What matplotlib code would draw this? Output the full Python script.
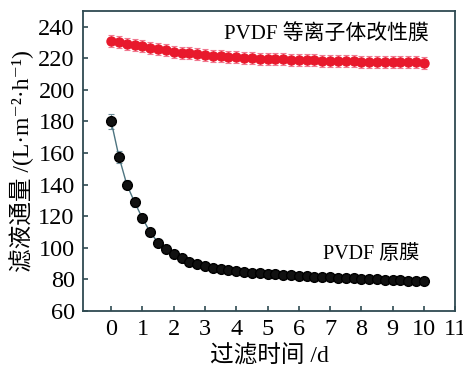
import numpy as np
import matplotlib
matplotlib.use('Agg')
import matplotlib.pyplot as plt

plt.rcParams['font.family'] = ['Liberation Serif', 'Noto Sans CJK SC', 'DejaVu Serif']

# 过滤时间 /d
days = [i * 0.25 for i in range(41)]

# PVDF 等离子体改性膜
modified = [230.8, 230.0, 229.2, 228.3, 227.5, 226.7, 225.8, 225.0, 224.2, 223.6,
            223.0, 222.5, 222.0, 221.6, 221.3, 221.0, 220.7, 220.4, 220.1, 219.8,
            219.6, 219.4, 219.2, 219.0, 218.9, 218.7, 218.6, 218.4, 218.3, 218.2,
            218.1, 218.0, 217.9, 217.8, 217.7, 217.6, 217.5, 217.4, 217.3, 217.3,
            217.2]
modified_err = [3.8] * 41

# PVDF 原膜
raw = [180.0, 157.5, 140.0, 128.8, 118.7, 109.8, 103.3, 99.3, 96.2, 93.4,
       91.3, 89.7, 88.4, 87.4, 86.6, 85.9, 85.3, 84.8, 84.3, 83.9,
       83.5, 83.2, 82.9, 82.6, 82.3, 82.0, 81.8, 81.5, 81.3, 81.1,
       80.9, 80.7, 80.5, 80.3, 80.1, 79.9, 79.7, 79.5, 79.3, 79.1,
       79.0]
raw_err = [4.5, 3.5, 3.0, 2.8, 2.6, 2.2, 2.0, 1.8, 1.6, 1.5] + [1.2] * 31

xticks = list(range(12))
yticks = list(range(60, 241, 20))

fig = plt.figure(figsize=(4.64, 3.73), dpi=100)
ax = fig.add_axes([0.179, 0.166, 0.802, 0.805])

ax.errorbar(days, modified, yerr=modified_err, fmt='o-', color='#e8192c',
            ecolor='#f07890', elinewidth=0.8, capsize=2.2, capthick=0.8,
            markersize=6.5, lw=1, zorder=3)
ax.errorbar(days, raw, yerr=raw_err, fmt='o-', color='#4d7480',
            mfc='#111111', mec='#000000', ecolor='#6f8f9a', elinewidth=0.8,
            capsize=2.2, capthick=0.8, markersize=7, lw=1, zorder=3)

ax.text(10.15, 235, 'PVDF 等离子体改性膜', fontsize=15, ha='right', va='center')
ax.text(9.85, 95.5, 'PVDF 原膜', fontsize=14.5, ha='right', va='center')

ax.set_xlim(-0.9, 11)
ax.set_ylim(60, 250)
ax.set_xticks(xticks)
ax.set_yticks(yticks)
ax.tick_params(direction='in', length=3.5, width=1.2, color='#2f4a52',
               labelsize=17.5, pad=6)

for s in ax.spines.values():
    s.set_color('#2f4a52')
    s.set_linewidth(1.3)

ax.set_xlabel('过滤时间 /d', fontsize=17, labelpad=3)
ax.set_ylabel('滤液通量 /(L·m⁻²·h⁻¹)', fontsize=17, labelpad=3)

fig.savefig('out.png', dpi=100)
